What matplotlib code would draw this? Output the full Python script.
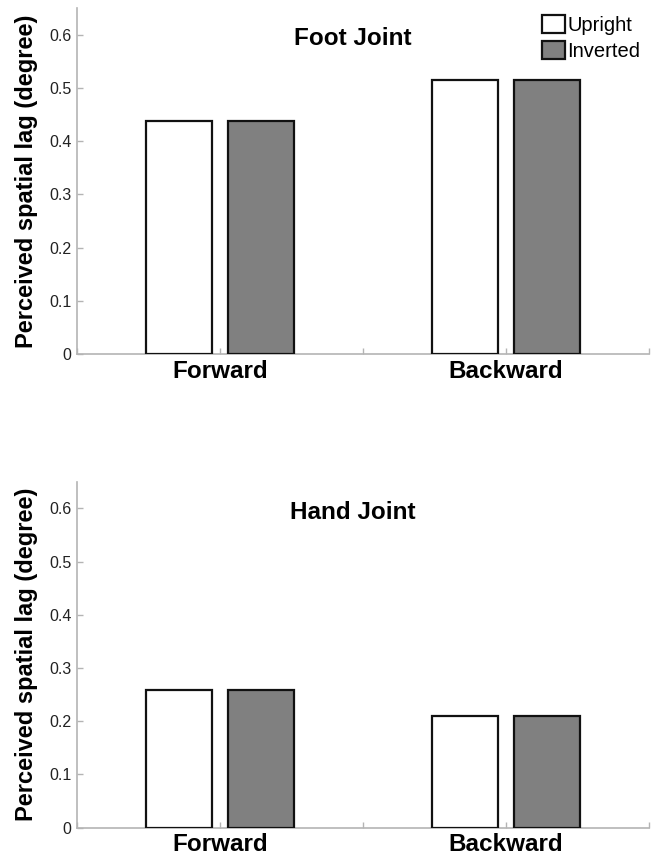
import matplotlib
matplotlib.use("Agg")
import matplotlib.pyplot as plt
import numpy as np

plt.rcParams['font.family'] = ['Liberation Sans', 'DejaVu Sans']

# data
groups = ["Forward", "Backward"]
series = ["Upright", "Inverted"]
foot_vals = {"Upright": [0.437, 0.515], "Inverted": [0.437, 0.515]}
hand_vals = {"Upright": [0.258, 0.210], "Inverted": [0.258, 0.210]}
panel_titles = ["Foot Joint", "Hand Joint"]
yticks = [0, 0.1, 0.2, 0.3, 0.4, 0.5, 0.6]
ytick_labels = ["0", "0.1", "0.2", "0.3", "0.4", "0.5", "0.6"]
xtick_labels = ["", "Forward", "", "Backward", ""]

colors = {"Upright": "white", "Inverted": "#808080"}
offsets = {"Upright": -0.285, "Inverted": 0.285}
spine_col = "#b4b4b4"

fig = plt.figure(figsize=(6.57, 8.55), dpi=100)
ax_top = fig.add_axes([0.1172, 0.5860, 0.8706, 0.4047])
ax_bot = fig.add_axes([0.1172, 0.0319, 0.8706, 0.4047])

group_x = np.array([1, 3])

for ax, vals, title in zip([ax_top, ax_bot], [foot_vals, hand_vals], panel_titles):
    for s in series:
        ax.bar(group_x + offsets[s], vals[s], width=0.46, color=colors[s],
               edgecolor="#111111", linewidth=1.6, label=s, zorder=3)
    ax.set_xlim(0, 4)
    ax.set_ylim(0, 0.65)
    ax.set_xticks([0, 1, 2, 3, 4])
    ax.set_xticklabels(xtick_labels, fontsize=17.5, fontweight="bold")
    ax.set_yticks(yticks)
    ax.set_yticklabels(ytick_labels, fontsize=11.5, color="#222222")
    ax.tick_params(axis="both", direction="in", length=4, width=1, color=spine_col)
    ax.tick_params(axis="x", pad=4)
    ax.tick_params(axis="y", pad=4)
    for side in ["top", "right"]:
        ax.spines[side].set_visible(False)
    for side in ["left", "bottom"]:
        ax.spines[side].set_color(spine_col)
        ax.spines[side].set_linewidth(1.2)
    ax.set_ylabel("Perceived spatial lag (degree)", fontsize=17, fontweight="bold")
    ax.yaxis.set_label_coords(-0.068, 0.5)
    ax.text(1.93, 0.592, title, fontsize=17.5, fontweight="bold", ha="center", va="center")

leg = ax_top.legend(loc="upper left", bbox_to_anchor=(542 / 657, 1 - 15 / 855),
                    bbox_transform=fig.transFigure, frameon=False, fontsize=14.5,
                    handlelength=1.15, handleheight=1.0, handletextpad=0.1,
                    labelspacing=0.3, borderpad=0, borderaxespad=0)

fig.savefig("out.png", dpi=100)
